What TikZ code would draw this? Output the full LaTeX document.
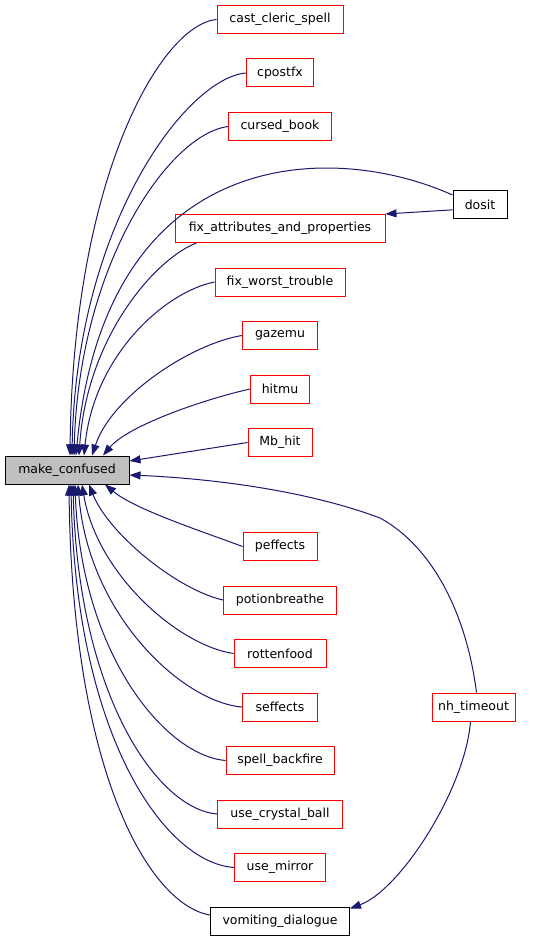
\documentclass[tikz,border=0pt]{standalone}
\usepackage{fontspec}
\setmainfont{DejaVu Sans}
\usetikzlibrary{arrows.meta,positioning}
\definecolor{cEdge}{RGB}{25,25,112}
\definecolor{cRed}{RGB}{255,0,0}
\definecolor{cSel}{HTML}{BFBFBF}

\begin{document}
\begin{tikzpicture}[
    x=1pt, y=1pt,
    node distance=24.5pt and 20pt,
    fn/.style={rectangle, color=cRed, text=black, draw, line width=1pt, minimum height=28pt, inner xsep=0pt, inner ysep=0pt, font=\fontsize{12.5}{14}\selectfont},
    fnb/.style={fn, color=black},
    sel/.style={fn, color=black, fill=cSel},
    arr/.style={-{Triangle[length=11pt,width=8pt]}, draw=cEdge, line width=1pt}
]
\useasboundingbox (0,0) rectangle (533,-941);

\node[sel, minimum width=124pt] (mc) at (67,-470) {make\_confused};

\node[fn, minimum width=126pt] (ccs) at (280,-19.5) {cast\_cleric\_spell};
\node[fn, minimum width=67pt, below=of ccs] (cpf) {cpostfx};
\node[fn, minimum width=103pt, below=of cpf] (cbk) {cursed\_book};
\node[fn, minimum width=210pt, below=73pt of cbk] (fap) {fix\_attributes\_and\_properties};
\node[fn, minimum width=130pt, below=of fap] (fwt) {fix\_worst\_trouble};
\node[fn, minimum width=75pt, below=of fwt] (gaz) {gazemu};
\node[fn, minimum width=59pt, below=of gaz] (hit) {hitmu};
\node[fn, minimum width=64pt, below=of hit] (mbh) {Mb\_hit};
\node[fn, minimum width=74pt, below=75pt of mbh] (pef) {peffects};
\node[fn, minimum width=113pt, below=of pef] (pbr) {potionbreathe};
\node[fn, minimum width=92pt, below=of pbr] (rot) {rottenfood};
\node[fn, minimum width=75pt, below=of rot] (sef) {seffects};
\node[fn, minimum width=108pt, below=of sef] (spb) {spell\_backfire};
\node[fn, minimum width=125pt, below=of spb] (ucb) {use\_crystal\_ball};
\node[fn, minimum width=91pt, below=of ucb] (umi) {use\_mirror};
\node[fnb, minimum width=139pt, below=of umi] (vod) {vomiting\_dialogue};

\node[fnb, minimum width=54pt] (dos) at (480,-205) {dosit};
\node[fn, minimum width=83pt] (nht) at (473.5,-707) {nh\_timeout};

\draw[arr] (ccs.west) .. controls +(-55,-5) and +(3,280) .. ([xshift=3pt]mc.north);
\draw[arr] (cpf.west) .. controls +(-60,-5) and +(4,230) .. ([xshift=5pt]mc.north);
\draw[arr] (cbk.west) .. controls +(-60,-8) and +(5,190) .. ([xshift=7pt]mc.north);
\draw[arr] (dos.160) .. controls (330,-140) and (105,-145) .. ([xshift=9pt]mc.north);
\draw[arr] (dos.190) -- (fap.north east);
\draw[arr] ([xshift=22pt]fap.south west) .. controls +(-40,-15) and +(8,120) .. ([xshift=12pt]mc.north);
\draw[arr] (fwt.west) .. controls +(-50,-10) and +(10,100) .. ([xshift=17pt]mc.north);
\draw[arr] (gaz.west) .. controls +(-50,-8) and +(20,60) .. ([xshift=25pt]mc.north);
\draw[arr] (hit.west) .. controls +(-45,-10) and +(25,30) .. ([xshift=36pt]mc.north);
\draw[arr] (mbh.west) -- ([yshift=9pt]mc.east);
\draw[arr] ([xshift=3pt]nht.north) .. controls (466,-610) and (430,-545) .. (380,-518)
  .. controls (300,-488) and (200,-478) .. ([yshift=-5pt]mc.east);
\draw[arr] (pef.west) .. controls +(-40,15) and +(30,-25) .. ([xshift=38pt]mc.south);
\draw[arr] (pbr.west) .. controls +(-45,10) and +(20,-50) .. ([xshift=22pt]mc.south);
\draw[arr] (rot.west) .. controls +(-55,8) and +(15,-90) .. ([xshift=15pt]mc.south);
\draw[arr] (sef.west) .. controls +(-60,5) and +(10,-130) .. ([xshift=11pt]mc.south);
\draw[arr] (spb.west) .. controls +(-60,5) and +(6,-170) .. ([xshift=8pt]mc.south);
\draw[arr] (ucb.west) .. controls +(-60,5) and +(5,-210) .. ([xshift=6pt]mc.south);
\draw[arr] (umi.west) .. controls +(-70,5) and +(4,-250) .. ([xshift=4pt]mc.south);
\draw[arr] ([yshift=6pt]vod.west) .. controls +(-60,10) and +(3,-290) .. ([xshift=2pt]mc.south);
\draw[arr] ([xshift=-3pt]nht.south) .. controls (465,-790) and (400,-890) .. ([yshift=-2pt]vod.north east);
\end{tikzpicture}
\end{document}
